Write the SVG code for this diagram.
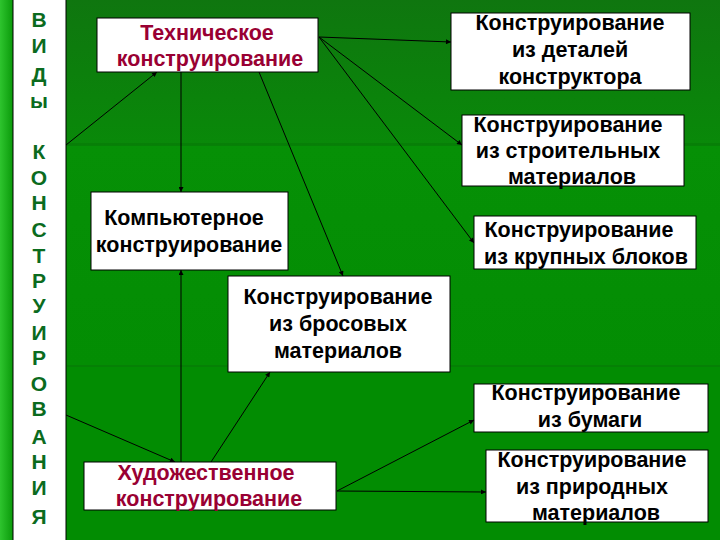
<svg xmlns="http://www.w3.org/2000/svg" width="720" height="540" viewBox="0 0 720 540">
<defs>
<linearGradient id="gTop" x1="0" y1="0" x2="0" y2="1">
<stop offset="0" stop-color="#0f760f"/>
<stop offset="1" stop-color="#098909"/>
</linearGradient>
<linearGradient id="gMid" x1="0" y1="0" x2="0" y2="1">
<stop offset="0" stop-color="#069006"/>
<stop offset="1" stop-color="#038d03"/>
</linearGradient>
<linearGradient id="gLeft" x1="0" y1="0" x2="1" y2="0">
<stop offset="0" stop-color="#2ec42e"/>
<stop offset="1" stop-color="#0a9a0a"/>
</linearGradient>
<marker id="arr" viewBox="0 0 10 10" refX="10" refY="5" markerWidth="6" markerHeight="5" markerUnits="userSpaceOnUse" orient="auto">
<path d="M0,0 L10,5 L0,10 z" fill="#000"/>
</marker>
<style>
.box{fill:#fff;stroke:#000;stroke-width:1}
.t{font-family:"Liberation Sans",Arial,sans-serif;font-weight:bold;font-size:21.5px;text-anchor:middle;fill:#000}
.r{fill:#990033}
.v{font-family:"Liberation Sans",Arial,sans-serif;font-weight:bold;font-size:21px;text-anchor:middle;fill:#0b6b1e}
.c{stroke:#000;stroke-width:1;fill:none;marker-end:url(#arr)}
</style>
</defs>
<g id="background">
<rect x="0" y="0" width="720" height="540" fill="#028c02"/>
<rect x="0" y="0" width="720" height="145" fill="url(#gTop)"/>
<rect x="67" y="145" width="653" height="220" fill="url(#gMid)"/>
<rect x="67" y="365" width="653" height="2" fill="#077a07" opacity="0.7"/>
<rect x="67" y="143" width="653" height="3" fill="#077a07" opacity="0.7"/>
<rect x="0" y="0" width="13" height="540" fill="url(#gLeft)"/>
</g>
<g id="connectors">
<line class="c" x1="66" y1="145" x2="157" y2="72"/>
<line class="c" x1="66" y1="415" x2="175" y2="462"/>
<line class="c" x1="181" y1="72" x2="181" y2="192"/>
<line class="c" x1="181" y1="462" x2="181" y2="270"/>
<line class="c" x1="259" y1="72" x2="343" y2="276"/>
<line class="c" x1="211" y1="462" x2="270" y2="372"/>
<line class="c" x1="319" y1="37" x2="451" y2="42"/>
<line class="c" x1="319" y1="37" x2="462" y2="145"/>
<line class="c" x1="319" y1="37" x2="474" y2="243"/>
<line class="c" x1="337" y1="491" x2="474" y2="420"/>
<line class="c" x1="337" y1="491" x2="486" y2="492"/>
</g>
<g id="vidy">
<rect class="box" x="13" y="-1" width="53" height="545"/>
<text class="v" x="39" y="27">В</text>
<text class="v" x="39" y="53">И</text>
<text class="v" x="39" y="82">Д</text>
<text class="v" x="39" y="108">ы</text>
<text class="v" x="39" y="159">К</text>
<text class="v" x="39" y="185">О</text>
<text class="v" x="39" y="210">Н</text>
<text class="v" x="39" y="237">С</text>
<text class="v" x="39" y="263">Т</text>
<text class="v" x="39" y="288">Р</text>
<text class="v" x="39" y="313">У</text>
<text class="v" x="39" y="340">И</text>
<text class="v" x="39" y="365">Р</text>
<text class="v" x="39" y="391">О</text>
<text class="v" x="39" y="416">В</text>
<text class="v" x="39" y="444">А</text>
<text class="v" x="39" y="469">Н</text>
<text class="v" x="39" y="495">И</text>
<text class="v" x="39" y="524">Я</text>
</g>
<g id="tech">
<rect class="box" x="97" y="18" width="221" height="54"/>
<text class="t r" x="207" y="40">Техническое</text>
<text class="t r" x="210" y="66">конструирование</text>
</g>
<g id="comp">
<rect class="box" x="91" y="192" width="197" height="78"/>
<text class="t" x="184" y="225">Компьютерное</text>
<text class="t" x="189" y="252">конструирование</text>
</g>
<g id="bros">
<rect class="box" x="228" y="276" width="222" height="96"/>
<text class="t" x="338" y="304">Конструирование</text>
<text class="t" x="338" y="331">из бросовых</text>
<text class="t" x="338" y="358">материалов</text>
</g>
<g id="hud">
<rect class="box" x="84" y="462" width="252" height="48"/>
<text class="t r" x="206" y="480">Художественное</text>
<text class="t r" x="209" y="506">конструирование</text>
</g>
<g id="detal">
<rect class="box" x="451" y="13" width="239" height="77"/>
<text class="t" x="570" y="30">Конструирование</text>
<text class="t" x="570" y="57">из деталей</text>
<text class="t" x="570" y="84">конструктора</text>
</g>
<g id="stroit">
<rect class="box" x="462" y="115" width="222" height="71"/>
<text class="t" x="568" y="132">Конструирование</text>
<text class="t" x="568" y="158">из строительных</text>
<text class="t" x="572" y="184">материалов</text>
</g>
<g id="blok">
<rect class="box" x="474" y="216" width="222" height="53"/>
<text class="t" x="579" y="237">Конструирование</text>
<text class="t" x="586" y="264">из крупных блоков</text>
</g>
<g id="bumaga">
<rect class="box" x="474" y="384" width="234" height="48"/>
<text class="t" x="586" y="400">Конструирование</text>
<text class="t" x="590" y="427">из бумаги</text>
</g>
<g id="prirod">
<rect class="box" x="486" y="450" width="222" height="72"/>
<text class="t" x="592" y="467">Конструирование</text>
<text class="t" x="592" y="494">из природных</text>
<text class="t" x="596" y="520">материалов</text>
</g>
</svg>
